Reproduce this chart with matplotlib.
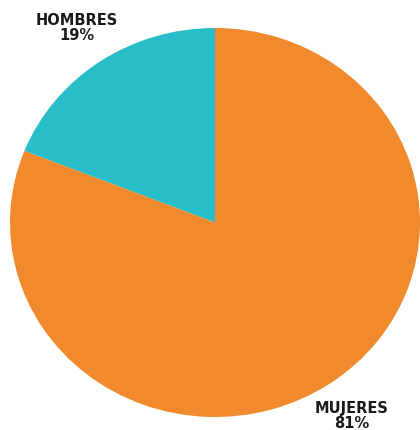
import matplotlib.pyplot as plt

labels = ["HOMBRES", "MUJERES"]
shares = [19, 81]
colors = ["#27BDC9", "#F08A2C"]

fig = plt.figure(figsize=(4.2, 4.31), dpi=100)
# pie is slightly wider than tall in the reference
ax = fig.add_axes([10 / 420, 13 / 431, 410 / 420, 389 / 431])
ax.pie(shares, colors=colors, startangle=90, counterclock=True,
       wedgeprops=dict(linewidth=0))
ax.set_aspect("auto")
ax.set_xlim(-1, 1)
ax.set_ylim(-1, 1)
ax.axis("off")

# labels with percentage under the name
fig.text(77 / 420, 1 - 28 / 431, "%s\n%d%%" % (labels[0], shares[0]),
         ha="center", va="center", fontsize=10.5, fontweight="bold",
         linespacing=1.0, color="#1a1a1a")
fig.text(352 / 420, 1 - 416 / 431, "%s\n%d%%" % (labels[1], shares[1]),
         ha="center", va="center", fontsize=10.5, fontweight="bold",
         linespacing=1.0, color="#1a1a1a")

fig.savefig("out.png", dpi=100)
